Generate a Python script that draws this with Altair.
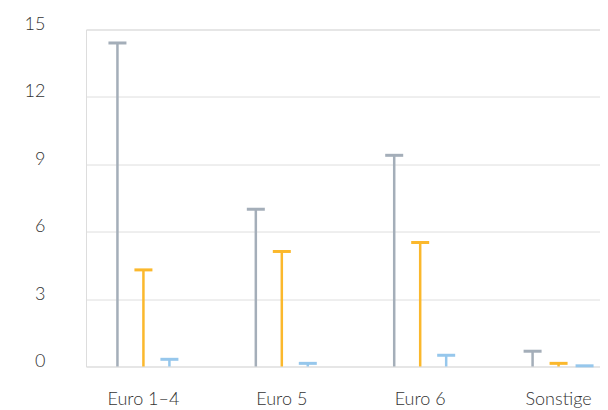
import altair as alt
import pandas as pd

categories = ["Euro 1–4", "Euro 5", "Euro 6", "Sonstige"]
series = ["Reihe 1", "Reihe 2", "Reihe 3"]
colors = ["#a4aeb9", "#fbb82c", "#96c7ec"]
values = {
    "Reihe 1": [14.4, 7.0, 9.4, 0.68],
    "Reihe 2": [4.3, 5.12, 5.52, 0.14],
    "Reihe 3": [0.32, 0.14, 0.5, 0.03],
}
y_ticks = [0, 3, 6, 9, 12, 15]

rows = []
for s in series:
    for c, v in zip(categories, values[s]):
        rows.append({"Kategorie": c, "Reihe": s, "Wert": v, "Null": 0})
df = pd.DataFrame(rows)

FONT = "Lato"

x = alt.X(
    "Kategorie:N",
    sort=categories,
    scale=alt.Scale(range=[0, 530], paddingInner=0.17, paddingOuter=0),
    axis=alt.Axis(
        title=None, ticks=False, domain=False, labelAngle=0,
        labelFont=FONT, labelFontSize=18, labelColor="#333333",
        labelFontWeight=300, labelPadding=24,
    ),
)
xo = alt.XOffset(
    "Reihe:N", sort=series,
    scale=alt.Scale(paddingInner=0, paddingOuter=0.71),
)
y = alt.Y(
    "Wert:Q",
    scale=alt.Scale(domain=[0, 15], nice=False),
    axis=alt.Axis(
        title=None, values=y_ticks, ticks=False, domain=False,
        labelFont=FONT, labelFontSize=18, labelColor="#333333",
        labelFontWeight=300,
        labelPadding=41, labelBaseline="alphabetic",
        gridColor="#dedede", gridWidth=1,
    ),
)
color = alt.Color(
    "Reihe:N", sort=series,
    scale=alt.Scale(domain=series, range=colors), legend=None,
)

base = alt.Chart(df)
stems = base.mark_rule(strokeWidth=2.5).encode(
    x=x, xOffset=xo, y=y, y2="Null:Q", color=color
)
caps = base.mark_tick(orient="horizontal", thickness=3, size=18, opacity=1).encode(
    x=x, xOffset=xo, y="Wert:Q", color=color
)

chart = (
    alt.layer(stems, caps)
    .properties(
        width=514, height=337,
        padding={"left": 78, "top": 21.5, "right": 0, "bottom": 42},
        autosize=alt.AutoSizeParams(type="none"),
    )
    .configure_view(stroke=None)
    .configure(background="white")
)

chart.save("out.html", embed_options={"renderer": "svg", "actions": False})
